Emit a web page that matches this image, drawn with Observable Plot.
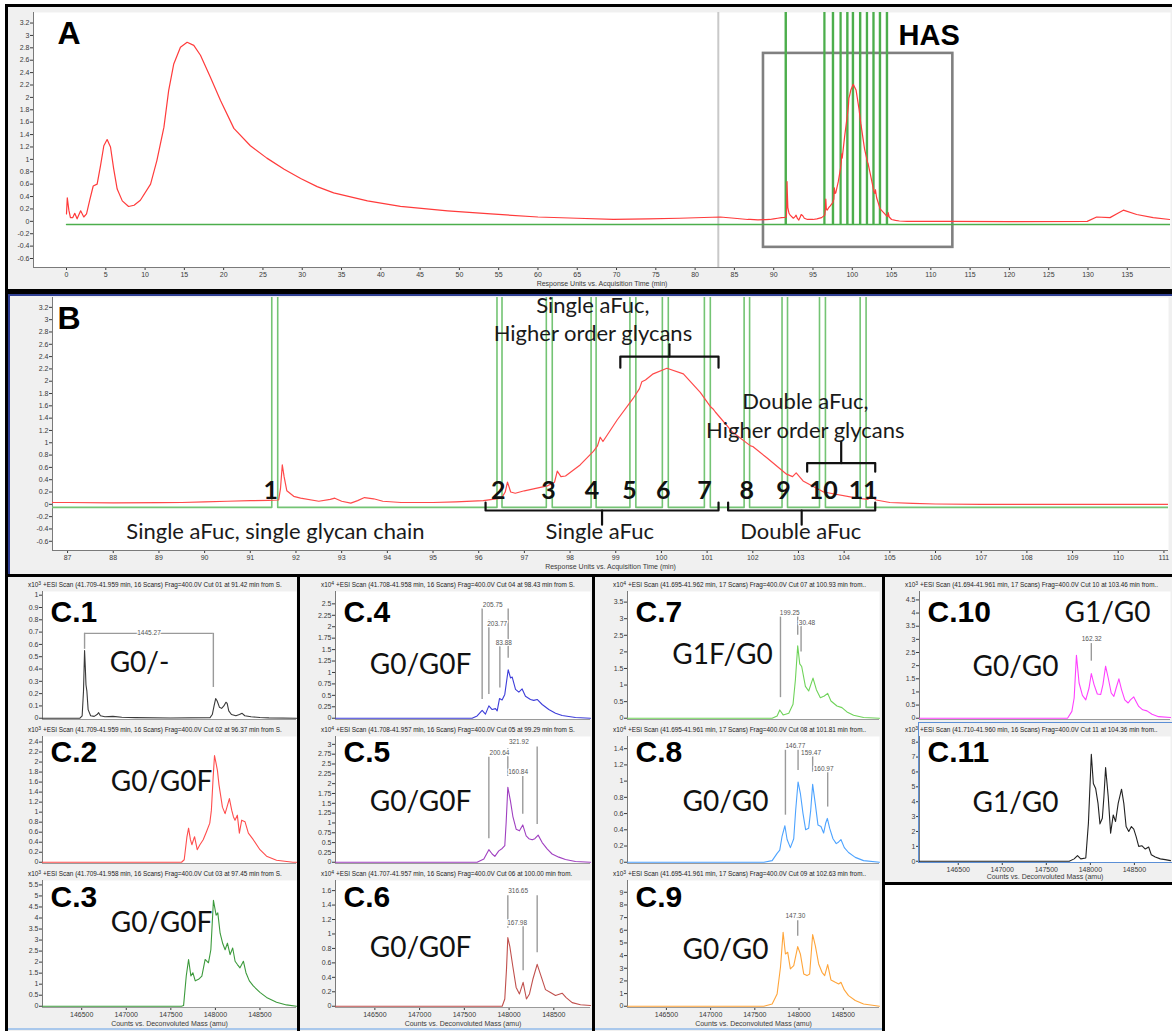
<!DOCTYPE html>
<html>
<head>
<meta charset="utf-8">
<title>HAS fractionation: chromatogram and deconvoluted spectra</title>
<script src="https://cdn.jsdelivr.net/npm/d3@7"></script>
<script src="https://cdn.jsdelivr.net/npm/@observablehq/plot@0.6"></script>
<style>
  html, body { margin: 0; padding: 0; background: #ffffff; }
  #fig { position: relative; width: 1172px; height: 1031px; overflow: hidden; background: #ffffff; }
  .box { position: absolute; box-sizing: border-box; background: #f0f0f0; border: 3px solid #000; }
  .slot { position: absolute; }
  .slot svg { display: block; }
  .hdr, .exp { position: absolute; font-family: "Liberation Sans", Arial, sans-serif; font-size: 6.4px; color: #222; white-space: nowrap; line-height: 9px; }
  .hdr { overflow: hidden; }
  .exp sup { font-size: 5px; line-height: 0; vertical-align: 2px; }
</style>
</head>
<body>
<div id="fig"></div>
<script>
// ---------- Chromatogram: response units vs acquisition time (min) ----------
const chromTime = [
  0, 0.1, 0.3, 0.5, 0.8, 1.05, 1.35, 1.8, 2.2, 2.55, 2.97, 3.4, 3.9, 4.33, 4.75, 5.17, 5.6, 6.0, 6.45, 7.1,
  7.9, 8.6, 9.4, 10.7, 11.5, 12.4, 13.0, 13.65, 14.5, 15.35, 16.2, 17.05, 18.3, 19.6, 21.3, 23.4, 25.5, 27.7, 29.8, 31.9,
  34, 38.3, 42.5, 48.5, 54, 60, 65, 69.6, 74, 78, 83.2, 85, 86.7,
  87, 88, 89, 89.5, 90, 90.5, 91, 91.4, 91.62, 91.66, 91.7, 91.74, 91.8, 91.95, 92.1, 92.5, 92.75, 92.85, 93.0, 93.2,
  93.35, 93.5, 93.7, 93.9, 94.3, 95, 95.5, 96.1, 96.5, 96.58, 96.63, 96.7, 96.8, 97.0, 97.2, 97.5, 97.66, 97.72, 97.8, 97.9,
  98.22, 98.51, 98.6, 98.66, 98.72, 99.03, 99.38, 99.52, 99.57, 99.65, 99.82, 100.12, 100.48, 100.85, 101.08, 101.13, 101.18, 101.56, 101.95, 102.0,
  102.3, 102.74, 102.87, 102.95, 103.1, 103.55, 104.28, 104.52, 104.57, 104.7, 105.0, 105.5, 106, 107, 108, 109, 110, 111,
  112, 120, 129.9, 131.1, 132.8, 133.8, 134.5, 136.2, 138.3, 140.4
];
const chromResp = [
  0.12, 0.38, 0.18, 0.06, 0.06, 0.13, 0.04, 0.17, 0.07, 0.12, 0.35, 0.57, 0.6, 0.9, 1.22, 1.32, 1.2, 0.85, 0.52, 0.33,
  0.24, 0.26, 0.34, 0.6, 0.98, 1.52, 2.11, 2.54, 2.81, 2.89, 2.84, 2.68, 2.33, 1.95, 1.5, 1.22, 1.02, 0.84, 0.69, 0.56,
  0.46, 0.33, 0.24, 0.17, 0.12, 0.07, 0.05, 0.03, 0.04, 0.05, 0.07, 0.05, 0.03,
  0.03, 0.025, 0.028, 0.03, 0.04, 0.05, 0.06, 0.065, 0.07, 0.25, 0.64, 0.45, 0.22, 0.13, 0.1, 0.05, 0.08, 0.1, 0.05, 0.02,
  0.06, 0.11, 0.09, 0.05, 0.03, 0.03, 0.04, 0.06, 0.1, 0.2, 0.36, 0.2, 0.18, 0.22, 0.25, 0.3, 0.36, 0.54, 0.45, 0.46,
  0.64, 0.86, 0.95, 1.09, 1.02, 1.37, 1.72, 1.88, 1.99, 2.02, 2.12, 2.21, 2.12, 1.82, 1.58, 1.55, 1.5, 1.17, 0.95, 0.94,
  0.76, 0.49, 0.45, 0.51, 0.38, 0.2, 0.1, 0.08, 0.14, 0.07, 0.03, 0.015, 0.005, 0, 0, 0, 0, 0,
  0, -0.005, 0, 0.07, 0.06, 0.13, 0.18, 0.11, 0.06, 0.03
];

// Fraction cut windows (start / end, min) and their numbering
const cutStart = [91.47, 96.40, 97.48, 98.46, 99.31, 100.02, 100.94, 101.81, 102.64, 103.46, 104.35];
const cutEnd   = [91.60, 96.51, 97.61, 98.57, 99.44, 100.15, 101.07, 101.93, 102.76, 103.59, 104.48];
const cutLabels = ["1", "2", "3", "4", "5", "6", "7", "8", "9", "10", "11"];
const cutLabelTime = [91.45, 96.43, 97.53, 98.48, 99.30, 100.04, 100.94, 101.87, 102.67, 103.54, 104.42];
const cutLabelLevel = 0.21;
const cutBaseline = -0.05;
const cutSignalHigh = 50;
const traceEnd = 140.5;
const cursorTime = 82.95;
const hasRegion = [{x1: 88.7, x2: 112.8, y1: -0.42, y2: 2.71}];

// Axis ticks
const respTicks = [-0.6, -0.4, -0.2, 0, 0.2, 0.4, 0.6, 0.8, 1, 1.2, 1.4, 1.6, 1.8, 2, 2.2, 2.4, 2.6, 2.8, 3, 3.2];
const timeTicksA = [0, 5, 10, 15, 20, 25, 30, 35, 40, 45, 50, 55, 60, 65, 70, 75, 80, 85, 90, 95, 100, 105, 110, 115, 120, 125, 130, 135];
const timeTicksB = [87, 88, 89, 90, 91, 92, 93, 94, 95, 96, 97, 98, 99, 100, 101, 102, 103, 104, 105, 106, 107, 108, 109, 110, 111];
const massTicks = [146500, 147000, 147500, 148000, 148500];

// Brackets grouping the cuts in panel B
const bracketGroups = [
  {name: "single", from: 96.15, to: 101.25, level: -0.1, tip: 0.03, stem: -0.33},
  {name: "double", from: 101.46, to: 104.68, level: -0.1, tip: 0.03, stem: -0.33},
  {name: "singleHigher", from: 99.1, to: 101.25, level: 2.4, tip: 2.22, stem: 2.6},
  {name: "doubleHigher", from: 103.19, to: 104.68, level: 0.67, tip: 0.53, stem: 1.02}
];
const bracketNotes = [
  {text: "Single aFuc, single glycan chain", x: 91.55, y: -0.45, anchor: "middle"},
  {text: "Single aFuc", x: 98.65, y: -0.45, anchor: "middle"},
  {text: "Double aFuc", x: 103.05, y: -0.45, anchor: "middle"},
  {text: "Single aFuc,", x: 98.5, y: 3.23, anchor: "start"},
  {text: "Higher order glycans", x: 98.5, y: 2.77, anchor: "start"},
  {text: "Double aFuc,", x: 103.15, y: 1.67, anchor: "start"},
  {text: "Higher order glycans", x: 103.15, y: 1.2, anchor: "start"}
];

// ---------- Deconvoluted spectra: [mass (amu), counts] ----------
const spec01 = [[146060,0],[146480,0],[146505,0.02],[146520,0.22],[146532,0.55],[146540,0.42],[146548,0.27],[146558,0.22],[146572,0.07],[146600,0.02],[146640,0.015],[146672,0.03],[146690,0.045],[146710,0.02],[146760,0.012],[146850,0.015],[146950,0.008],[147100,0.005],[147500,0.002],[147940,0.005],[147965,0.03],[147985,0.1],[148003,0.16],[148020,0.14],[148045,0.09],[148070,0.08],[148095,0.1],[148118,0.13],[148132,0.12],[148150,0.06],[148180,0.03],[148230,0.02],[148270,0.03],[148300,0.04],[148330,0.02],[148400,0.012],[148500,0.006],[148600,0.003],[148910,0]];
const spec02 = [[146060,0],[147620,0],[147650,0.05],[147680,0.5],[147699,0.68],[147720,0.45],[147736,0.35],[147766,0.51],[147796,0.25],[147826,0.35],[147863,0.45],[147900,0.61],[147937,0.78],[147955,1.04],[147975,1.7],[147990,2.13],[148005,2.0],[148023,1.83],[148040,1.55],[148053,1.4],[148079,1.1],[148109,0.97],[148157,1.27],[148183,1.04],[148202,0.91],[148220,0.84],[148246,0.94],[148269,0.58],[148295,0.84],[148332,0.81],[148370,0.58],[148425,0.45],[148500,0.25],[148574,0.12],[148686,0.04],[148870,0],[148910,0]];
const spec03 = [[146060,0],[147620,0],[147643,0.03],[147673,1.37],[147699,2.12],[147725,1.37],[147747,1.52],[147774,1.15],[147811,1.22],[147848,1.37],[147885,2.12],[147922,1.97],[147949,2.56],[147978,4.8],[148008,4.13],[148027,4.23],[148053,3.31],[148083,2.83],[148109,2.56],[148135,2.86],[148165,2.34],[148194,2.64],[148221,2.04],[148247,1.89],[148276,1.74],[148314,2.04],[148343,1.52],[148381,1.15],[148425,0.92],[148500,0.63],[148574,0.4],[148686,0.18],[148798,0.06],[148910,0]];
const spec04 = [[146060,0],[147587,0],[147643,0.05],[147699,0.17],[147736,0.09],[147774,0.27],[147811,0.19],[147848,0.21],[147867,0.16],[147893,0.43],[147922,0.4],[147952,0.52],[147990,1.06],[148016,0.88],[148035,0.9],[148072,0.63],[148109,0.57],[148146,0.64],[148183,0.48],[148239,0.41],[148276,0.39],[148314,0.41],[148370,0.3],[148444,0.19],[148519,0.11],[148593,0.06],[148742,0.015],[148910,0]];
const spec05 = [[146060,0],[147643,0],[147718,0.08],[147774,0.32],[147811,0.21],[147841,0.15],[147885,0.29],[147923,0.35],[147952,0.42],[147967,1.0],[147986,1.91],[148016,1.55],[148042,1.17],[148079,0.84],[148116,0.8],[148153,0.95],[148191,0.67],[148221,0.6],[148258,0.57],[148288,0.6],[148325,0.69],[148370,0.5],[148425,0.34],[148481,0.21],[148556,0.13],[148630,0.07],[148742,0.02],[148910,0]];
const spec06 = [[146060,0],[147923,0],[147952,0.1],[147971,0.51],[147986,0.95],[148008,0.83],[148042,0.55],[148079,0.26],[148116,0.17],[148157,0.33],[148194,0.1],[148228,0.17],[148265,0.37],[148314,0.58],[148362,0.4],[148407,0.23],[148463,0.19],[148519,0.15],[148593,0.18],[148638,0.12],[148705,0.05],[148798,0.02],[148910,0.01]];
const spec07 = [[146060,0],[147696,0],[147752,0.07],[147782,0.25],[147820,0.1],[147884,0.15],[147932,0.42],[147959,1.16],[147985,2.18],[148008,1.64],[148030,1.56],[148072,0.96],[148109,0.82],[148158,1.21],[148196,0.86],[148241,0.62],[148286,0.67],[148324,0.75],[148361,0.52],[148429,0.37],[148485,0.32],[148542,0.19],[148617,0.09],[148730,0.02],[148910,0]];
const spec08 = [[146060,0],[147602,0],[147696,0.02],[147752,0.11],[147782,0.15],[147808,0.32],[147840,0.45],[147865,0.28],[147902,0.18],[147940,0.29],[147962,0.64],[147989,0.99],[148015,0.85],[148045,0.6],[148075,0.4],[148109,0.42],[148132,0.64],[148154,0.96],[148184,0.72],[148214,0.46],[148248,0.44],[148278,0.36],[148301,0.48],[148320,0.54],[148346,0.42],[148384,0.29],[148421,0.23],[148448,0.25],[148474,0.28],[148512,0.18],[148560,0.12],[148636,0.06],[148730,0.02],[148910,0]];
const spec09 = [[146060,0],[147602,0],[147696,0.18],[147752,0.97],[147790,3.08],[147820,5.84],[147846,4.13],[147872,4.26],[147902,2.95],[147940,3.2],[147985,4.71],[148015,4.13],[148053,2.55],[148090,2.42],[148120,2.55],[148154,5.66],[148184,4.79],[148222,3.34],[148260,2.68],[148290,2.42],[148324,3.29],[148361,2.08],[148410,1.89],[148448,1.76],[148474,1.89],[148512,1.29],[148560,0.84],[148636,0.45],[148730,0.18],[148910,0]];
const spec10 = [[146060,0],[147741,0],[147790,0.26],[147816,0.77],[147842,2.39],[147872,1.34],[147910,0.87],[147948,0.7],[147985,1.15],[148011,1.7],[148042,1.28],[148079,0.92],[148117,0.9],[148143,1.28],[148173,1.98],[148203,1.53],[148237,0.96],[148267,0.83],[148293,1.15],[148324,1.5],[148354,1.09],[148391,0.7],[148429,0.58],[148455,0.7],[148493,0.81],[148519,0.64],[148549,0.45],[148594,0.32],[148643,0.28],[148700,0.15],[148775,0.06],[148910,0.03]];
const spec11 = [[146060,0],[147760,0],[147816,0.16],[147854,0.38],[147891,0.16],[147948,0.22],[147978,2.56],[148011,7.18],[148034,5.22],[148060,4.89],[148087,3.89],[148109,2.51],[148136,2.89],[148154,4.33],[148173,6.29],[148203,4.33],[148230,1.89],[148260,3.11],[148286,2.67],[148316,3.89],[148354,4.84],[148380,3.89],[148406,2.33],[148436,2.0],[148466,2.33],[148493,2.16],[148519,1.67],[148549,1.0],[148587,1.04],[148624,0.82],[148662,0.96],[148692,0.44],[148737,0.29],[148794,0.16],[148850,0.11],[148910,0.04]];

// Intensity ticks of each spectrum
const ticksC1 = [0, 0.1, 0.2, 0.3, 0.4, 0.5, 0.6, 0.7, 0.8, 0.9, 1];
const ticksC2 = [0, 0.2, 0.4, 0.6, 0.8, 1, 1.2, 1.4, 1.6, 1.8, 2, 2.2, 2.4];
const ticksC3 = [0, 0.5, 1, 1.5, 2, 2.5, 3, 3.5, 4, 4.5, 5, 5.5];
const ticksC4 = [0, 0.25, 0.5, 0.75, 1, 1.25, 1.5, 1.75, 2, 2.25, 2.5];
const ticksC5 = [0, 0.25, 0.5, 0.75, 1, 1.25, 1.5, 1.75, 2, 2.25, 2.5, 2.75, 3];
const ticksC6 = [0, 0.2, 0.4, 0.6, 0.8, 1, 1.2, 1.4, 1.6];
const ticksC7 = [0, 0.5, 1, 1.5, 2, 2.5, 3, 3.5];
const ticksC8 = [0, 0.2, 0.4, 0.6, 0.8, 1, 1.2, 1.4];
const ticksC9 = [0, 1, 2, 3, 4, 5, 6, 7, 8, 9];
const ticksC10 = [0, 0.5, 1, 1.5, 2, 2.5, 3, 3.5, 4, 4.5];
const ticksC11 = [0, 1, 2, 3, 4, 5, 6, 7, 8];
const intensityTop = [1.03, 2.51, 5.7, 2.77, 3.2, 1.74, 3.82, 1.55, 9.93, 4.82, 8.38];
const intensityExp = [3, 3, 3, 4, 4, 4, 4, 4, 3, 3, 3];

// Peak-difference markers (vertical guide lines and their mass-difference labels)
const linesC1 = [{mass: 146532, top: 0.69, bottom: 0.56}, {mass: 147977, top: 0.69, bottom: 0.25}];
const spanC1 = [{from: 146532, to: 147977, level: 0.69}];
const notesC1 = [{mass: 147255, y: 0.69, text: "1445.27"}];
const linesC4 = [{mass: 147699, top: 2.39, bottom: 0.41}, {mass: 147774, top: 2.14, bottom: 0.52}, {mass: 147897, top: 1.56, bottom: 0.66}, {mass: 147990, top: 2.39, bottom: 1.31}];
const notesC4 = [{mass: 147818, y: 2.48, text: "205.75"}, {mass: 147867, y: 2.07, text: "203.77"}, {mass: 147941, y: 1.64, text: "83.88"}];
const linesC5 = [{mass: 147774, top: 2.67, bottom: 0.6}, {mass: 147986, top: 2.89, bottom: 2.18}, {mass: 148153, top: 2.18, bottom: 1.22}, {mass: 148314, top: 2.93, bottom: 0.96}];
const notesC5 = [{mass: 147893, y: 2.78, text: "200.64"}, {mass: 148109, y: 3.05, text: "321.92"}, {mass: 148101, y: 2.29, text: "160.84"}];
const linesC6 = [{mass: 147986, top: 1.53, bottom: 1.08}, {mass: 148157, top: 1.1, bottom: 0.49}, {mass: 148314, top: 1.53, bottom: 0.74}];
const notesC6 = [{mass: 148101, y: 1.59, text: "316.65"}, {mass: 148090, y: 1.15, text: "167.98"}];
const linesC7 = [{mass: 147790, top: 3.05, bottom: 0.62}, {mass: 147985, top: 3.05, bottom: 2.5}, {mass: 148023, top: 2.97, bottom: 2.0}];
const notesC7 = [{mass: 147895, y: 3.17, text: "199.25"}, {mass: 148090, y: 2.88, text: "30.48"}];
const linesC8 = [{mass: 147846, top: 1.38, bottom: 0.58}, {mass: 147989, top: 1.38, bottom: 1.13}, {mass: 148154, top: 1.3, bottom: 1.11}, {mass: 148324, top: 1.11, bottom: 0.68}];
const notesC8 = [{mass: 147959, y: 1.43, text: "146.77"}, {mass: 148136, y: 1.35, text: "159.47"}, {mass: 148278, y: 1.15, text: "160.97"}];
const linesC9 = [{mass: 147985, top: 6.76, bottom: 5.53}];
const notesC9 = [{mass: 147959, y: 7.16, text: "147.30"}];
const linesC10 = [{mass: 148011, top: 2.84, bottom: 2.17}];
const notesC10 = [{mass: 148015, y: 3.0, text: "162.32"}];

const scanHeaders = [
  "+ESI Scan (41.709-41.959 min, 16 Scans) Frag=400.0V Cut 01 at 91.42 min from S.",
  "+ESI Scan (41.709-41.959 min, 16 Scans) Frag=400.0V Cut 02 at 96.37 min from S.",
  "+ESI Scan (41.709-41.958 min, 16 Scans) Frag=400.0V Cut 03 at 97.45 min from S.",
  "+ESI Scan (41.708-41.958 min, 16 Scans) Frag=400.0V Cut 04 at 98.43 min from S.",
  "+ESI Scan (41.708-41.957 min, 16 Scans) Frag=400.0V Cut 05 at 99.29 min from S.",
  "+ESI Scan (41.707-41.957 min, 16 Scans) Frag=400.0V Cut 06 at 100.00 min from.",
  "+ESI Scan (41.695-41.962 min, 17 Scans) Frag=400.0V Cut 07 at 100.93 min from..",
  "+ESI Scan (41.695-41.961 min, 17 Scans) Frag=400.0V Cut 08 at 101.81 min from..",
  "+ESI Scan (41.695-41.961 min, 17 Scans) Frag=400.0V Cut 09 at 102.63 min from..",
  "+ESI Scan (41.694-41.961 min, 17 Scans) Frag=400.0V Cut 10 at 103.46 min from..",
  "+ESI Scan (41.710-41.960 min, 16 Scans) Frag=400.0V Cut 11 at 104.36 min from.."
];
const panelNames = ["C.1", "C.2", "C.3", "C.4", "C.5", "C.6", "C.7", "C.8", "C.9", "C.10", "C.11"];
const glycanLabels = [["G0/-"], ["G0/G0F"], ["G0/G0F"], ["G0/G0F"], ["G0/G0F"], ["G0/G0F"], ["G1F/G0"], ["G0/G0"], ["G0/G0"], ["G0/G0", "G1/G0"], ["G1/G0"]];
const spectrumColors = ["#3a3a3a", "#ff4d4d", "#3c9a3c", "#3d3dd9", "#a040c0", "#c0504d", "#6fd35a", "#4da3ff", "#ffa53a", "#ff40ff", "#222222"];

// ---------- helpers ----------
const fig = document.getElementById("fig");
const fmt = d => String(Math.round(d * 1000) / 1000);
const tickFont = '"Liberation Sans", Arial, sans-serif';
const textFont = 'Lato, "Open Sans", sans-serif';
const letterFont = '"Liberation Sans", Arial, sans-serif';

function addBox(left, top, width, height) {
  const d = document.createElement("div");
  d.className = "box";
  Object.assign(d.style, {left: left + "px", top: top + "px", width: width + "px", height: height + "px"});
  fig.appendChild(d);
  return d;
}
function addSlot(node, left, top, width, height) {
  const d = document.createElement("div");
  d.className = "slot";
  Object.assign(d.style, {left: left + "px", top: top + "px", width: width + "px", height: height + "px"});
  d.appendChild(node);
  fig.appendChild(d);
}
function addText(cls, html, left, top, width) {
  const d = document.createElement("div");
  d.className = cls;
  d.innerHTML = html;
  Object.assign(d.style, {left: left + "px", top: top + "px"});
  if (width) d.style.width = width + "px";
  fig.appendChild(d);
}
function addStrip(left, top, width, height, color) {
  const s = document.createElement("div");
  Object.assign(s.style, {position: "absolute", left: left + "px", top: top + "px", width: width + "px", height: height + "px", background: color});
  fig.appendChild(s);
}

// Rows of the chromatogram and of the fraction-cut signal
const chrom = chromTime.map((t, i) => ({t, r: chromResp[i]}));
const cutTrace = [{t: 0, r: cutBaseline}];
cutStart.forEach((s, i) => {
  cutTrace.push({t: s, r: cutBaseline}, {t: s, r: cutSignalHigh}, {t: cutEnd[i], r: cutSignalHigh}, {t: cutEnd[i], r: cutBaseline});
});
cutTrace.push({t: traceEnd, r: cutBaseline});

// Bracket outlines: two hooks joined by a bar, plus a centre stem
const bracketPaths = bracketGroups.flatMap(b => {
  const mid = (b.from + b.to) / 2;
  return [
    {g: b.name, t: b.from, r: b.tip}, {g: b.name, t: b.from, r: b.level},
    {g: b.name, t: b.to, r: b.level}, {g: b.name, t: b.to, r: b.tip},
    {g: b.name + "-stem", t: mid, r: b.level}, {g: b.name + "-stem", t: mid, r: b.stem}
  ];
});

const axisStyle = {background: "transparent", fontFamily: tickFont, fontSize: "7px", color: "#3a3a3a", overflow: "visible"};

// ---------- frames ----------
addBox(5, 4, 1170, 288);
addBox(5, 291, 1170, 286);
addBox(5, 574, 295, 460);
addBox(297, 574, 298, 460);
addBox(592, 574, 293, 460);
addBox(882, 574, 293, 311);
// active-pane outline of panel B
addStrip(8, 294, 1164, 1.5, "#2f3f93");
addStrip(8, 294, 1.5, 280, "#2f3f93");

// ---------- Panel A: full run ----------
const xA = [-4.2, 140.5], yA = [-0.745, 3.37];
const plotA = Plot.plot({
  width: 1164, height: 282,
  marginLeft: 25, marginRight: 2, marginTop: 5, marginBottom: 22,
  style: axisStyle,
  x: {domain: xA, ticks: timeTicksA, tickSize: 3, tickPadding: 2, tickFormat: fmt, label: null},
  y: {domain: yA, ticks: respTicks, tickSize: 3, tickPadding: 1, tickFormat: fmt, label: null},
  marks: [
    Plot.frame({fill: "white", stroke: "none"}),
    Plot.ruleX([xA[0]], {stroke: "#7a7a7a"}),
    Plot.ruleY([yA[0]], {stroke: "#7a7a7a"}),
    Plot.ruleX([cursorTime], {stroke: "#c9c9c9", strokeWidth: 2}),
    Plot.rect(hasRegion, {x1: "x1", x2: "x2", y1: "y1", y2: "y2", fill: "none", stroke: "#808080", strokeWidth: 2.6}),
    Plot.line(cutTrace, {x: "t", y: "r", stroke: "#4cae4c", strokeWidth: 1.4, clip: true}),
    Plot.line(chrom, {x: "t", y: "r", stroke: "#ff3b3b", strokeWidth: 1.2, clip: true}),
    Plot.text(["Response Units vs. Acquisition Time (min)"], {frameAnchor: "bottom", dy: 18, fontSize: 7, fill: "#3a3a3a"}),
    Plot.text(["A"], {frameAnchor: "top-left", dx: 24, dy: 21, textAnchor: "start", lineAnchor: "middle", fontSize: 32, fontWeight: "bold", fontFamily: letterFont, fill: "#000"}),
    Plot.text(["HAS"], {frameAnchor: "top-left", dx: 865, dy: 23, textAnchor: "start", lineAnchor: "middle", fontSize: 29, fontWeight: "bold", fontFamily: letterFont, fill: "#000"})
  ]
});
addSlot(plotA, 8, 7, 1164, 282);

// ---------- Panel B: HAS window ----------
const xB = [86.67, 111.1], yB = [-0.75, 3.36];
const plotB = Plot.plot({
  width: 1164, height: 280,
  marginLeft: 44, marginRight: 4, marginTop: 3, marginBottom: 24,
  style: axisStyle,
  x: {domain: xB, ticks: timeTicksB, tickSize: 3, tickPadding: 2, tickFormat: fmt, label: null},
  y: {domain: yB, ticks: respTicks, tickSize: 3, tickPadding: 1, tickFormat: fmt, label: null},
  marks: [
    Plot.frame({fill: "white", stroke: "none"}),
    Plot.ruleX([xB[0]], {stroke: "#7a7a7a"}),
    Plot.ruleY([yB[0]], {stroke: "#7a7a7a"}),
    Plot.line(cutTrace, {x: "t", y: "r", stroke: "#74c474", strokeWidth: 1.6, clip: true}),
    Plot.line(chrom, {x: "t", y: "r", stroke: "#ff4a4a", strokeWidth: 1.2, clip: true}),
    Plot.line(bracketPaths, {x: "t", y: "r", z: "g", stroke: "#111", strokeWidth: 2.2, strokeLinejoin: "round"}),
    Plot.text(bracketNotes, {x: "x", y: "y", text: "text", textAnchor: d => d.anchor, fontSize: 22, fontFamily: textFont, fill: "#1a1a1a"}),
    Plot.text(cutLabels, {x: (d, i) => cutLabelTime[i], y: () => cutLabelLevel, text: d => d, fontSize: 25, fontWeight: "bold", fontFamily: textFont, fill: "#111"}),
    Plot.text(["Response Units vs. Acquisition Time (min)"], {frameAnchor: "bottom", dy: 18, fontSize: 7, fill: "#3a3a3a"}),
    Plot.text(["B"], {frameAnchor: "top-left", dx: 5, dy: 21, textAnchor: "start", lineAnchor: "middle", fontSize: 32, fontWeight: "bold", fontFamily: letterFont, fill: "#000"})
  ]
});
addSlot(plotB, 8, 294, 1164, 280);

// ---------- Panels C.1 - C.11: deconvoluted spectra ----------
const specData = [spec01, spec02, spec03, spec04, spec05, spec06, spec07, spec08, spec09, spec10, spec11];
const specTicks = [ticksC1, ticksC2, ticksC3, ticksC4, ticksC5, ticksC6, ticksC7, ticksC8, ticksC9, ticksC10, ticksC11];
const specLines = [linesC1, [], [], linesC4, linesC5, linesC6, linesC7, linesC8, linesC9, linesC10, []];
const specNotes = [notesC1, [], [], notesC4, notesC5, notesC6, notesC7, notesC8, notesC9, notesC10, []];
const specSpans = [spanC1, [], [], [], [], [], [], [], [], [], []];
const massDomain = [146060, 148910];

const columns = [
  {left: 8, width: 289, ml: 34, mr: 1},
  {left: 300, width: 292, ml: 35, mr: 2},
  {left: 595, width: 287, ml: 32, mr: 3},
  {left: 885, width: 287, ml: 34, mr: 2}
];
const rows = [
  {top: 588, height: 135, mb: 4, header: 580, letterDy: 21},
  {top: 733, height: 134, mb: 4, header: 725, letterDy: 16},
  {top: 877, height: 154, mb: 24, header: 869, letterDy: 17}
];
// column, row, whether the mass axis is drawn, glycan label offsets
const cells = [
  {col: 0, row: 0, axis: false, glycan: [[97, 72]]},
  {col: 0, row: 1, axis: false, glycan: [[119, 46]]},
  {col: 0, row: 2, axis: true, glycan: [[119, 43]]},
  {col: 1, row: 0, axis: false, glycan: [[85, 74]]},
  {col: 1, row: 1, axis: false, glycan: [[85, 66]]},
  {col: 1, row: 2, axis: true, glycan: [[85, 68]]},
  {col: 2, row: 0, axis: false, glycan: [[95, 64]]},
  {col: 2, row: 1, axis: false, glycan: [[98, 66]]},
  {col: 2, row: 2, axis: true, glycan: [[98, 70]]},
  {col: 3, row: 0, axis: false, glycan: [[96, 76], [188, 22]]},
  {col: 3, row: 1, axis: true, short: true, glycan: [[96, 67]]}
];

cells.forEach((cell, i) => {
  const c = columns[cell.col], r = rows[cell.row];
  const height = cell.short ? 149 : r.height;
  const mb = cell.short ? 20 : r.mb;
  const yDomain = [-intensityTop[i] * 0.01, intensityTop[i]];
  const lines = specLines[i], notes = specNotes[i], spans = specSpans[i];
  const marks = [
    Plot.frame({fill: "white", stroke: "none"}),
    Plot.ruleX([massDomain[0]], {stroke: "#7a7a7a"}),
    Plot.ruleY([yDomain[0]], {stroke: "#9a9a9a"}),
    Plot.ruleX(lines, {x: "mass", y1: "top", y2: "bottom", stroke: "#9a9a9a", strokeWidth: 1.4}),
    Plot.ruleY(spans, {y: "level", x1: "from", x2: "to", stroke: "#9a9a9a", strokeWidth: 1.4}),
    Plot.line(specData[i], {x: d => d[0], y: d => d[1], stroke: spectrumColors[i], strokeWidth: 1.1}),
    Plot.text(notes, {x: "mass", y: "y", text: "text", fontSize: 6.5, fill: "#555", stroke: "white", strokeWidth: 2.5}),
    Plot.text([panelNames[i]], {frameAnchor: "top-left", dx: 8, dy: r.letterDy, textAnchor: "start", lineAnchor: "middle", fontSize: 30, fontWeight: "bold", fontFamily: letterFont, fill: "#000"}),
    ...glycanLabels[i].map((g, k) => Plot.text([g], {frameAnchor: "top-left", dx: cell.glycan[k][0], dy: cell.glycan[k][1], textAnchor: "middle", lineAnchor: "middle", fontSize: 28, fontFamily: textFont, fill: "#111"}))
  ];
  if (cell.axis) {
    marks.push(Plot.text(["Counts vs. Deconvoluted Mass (amu)"], {frameAnchor: "bottom", dy: cell.short ? 16 : 18, fontSize: 7, fill: "#3a3a3a"}));
  }
  const svg = Plot.plot({
    width: c.width, height,
    marginLeft: c.ml, marginRight: c.mr, marginTop: 3, marginBottom: mb,
    style: axisStyle,
    x: cell.axis
      ? {domain: massDomain, ticks: massTicks, tickSize: 3, tickPadding: 2, tickFormat: fmt, label: null}
      : {domain: massDomain, axis: null},
    y: {domain: yDomain, ticks: specTicks[i], tickSize: 3, tickPadding: 1, tickFormat: fmt, label: null},
    marks
  });
  addSlot(svg, c.left, r.top, c.width, height);
  const frameLeft = c.left + c.ml;
  addText("exp", "x10<sup>" + intensityExp[i] + "</sup>", frameLeft - 14, r.header);
  addText("hdr", scanHeaders[i], frameLeft + 1, r.header, c.width - c.ml - c.mr - 1);
});

// selection outline around C.11 and the status strip at the bottom of the spectra columns
const sel = document.createElement("div");
Object.assign(sel.style, {position: "absolute", left: "918px", top: "722px", width: "256px", height: "141px", boxSizing: "border-box", border: "1.5px solid #5b8fd6", borderRight: "none"});
fig.appendChild(sel);
[[8, 289], [300, 292], [595, 287]].forEach(([l, w]) => addStrip(l, 1028, w, 2, "#a9c8ec"));
</script>
</body>
</html>
